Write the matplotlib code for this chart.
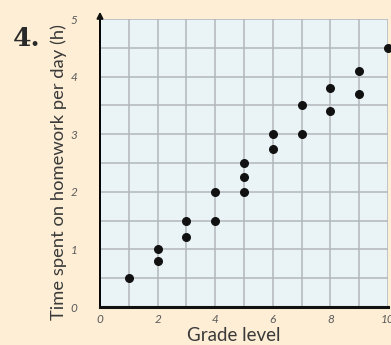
import matplotlib
matplotlib.use("Agg")
import matplotlib.pyplot as plt

# Scatter data: grade level vs hours of homework per day
grade = [1, 2, 2, 3, 3, 4, 4, 5, 5, 5, 6, 6, 7, 7, 8, 8, 9, 9, 10]
hours = [0.5, 1.0, 0.8, 1.5, 1.22, 2.0, 1.5, 2.5, 2.25, 2.0, 3.0, 2.75, 3.5, 3.0, 3.8, 3.4, 4.1, 3.7, 4.5]

x_ticks = [0, 2, 4, 6, 8, 10]
y_ticks = [0, 1, 2, 3, 4, 5]

bg = '#fdeed5'
plot_bg = '#eaf3f6'
grid_col = '#b3b6ba'
text_col = '#5a5a5a'

plt.rcParams['font.family'] = ['Lato', 'DejaVu Sans']

fig = plt.figure(figsize=(3.91, 3.45), dpi=100, facecolor=bg)
ax = fig.add_axes([100 / 391, 38 / 345, 288 / 391, 288 / 345])
ax.set_facecolor(plot_bg)

ax.set_xlim(0, 10)
ax.set_ylim(0, 5)

# grid every 1 on x, every 0.5 on y
for gx in range(1, 11):
    ax.axvline(gx, color=grid_col, lw=1.1, zorder=1)
for i in range(1, 11):
    ax.axhline(i * 0.5, color=grid_col, lw=1.1, zorder=1)

ax.scatter(grade, hours, s=30, color='#111111', zorder=3, clip_on=False)

for side in ['top', 'right']:
    ax.spines[side].set_visible(False)
ax.spines['left'].set_linewidth(1.4)
ax.spines['bottom'].set_linewidth(2.2)
ax.spines['bottom'].set_color('#111111')

# arrow on the y axis
ax.annotate('', xy=(0, 1.035), xytext=(0, 0.99), xycoords='axes fraction',
            arrowprops=dict(arrowstyle='-|>', color='#111111', lw=1.4,
                            mutation_scale=9), annotation_clip=False)

ax.set_xticks(x_ticks)
ax.set_yticks(y_ticks)
ax.tick_params(length=0, labelsize=8.5, labelcolor=text_col)
ax.tick_params(axis='x', pad=5)
ax.tick_params(axis='y', pad=16)
for lbl in ax.get_xticklabels() + ax.get_yticklabels():
    lbl.set_fontstyle('italic')

ax.set_xlabel('Grade level', fontsize=13.5, color='#3a3a3a')
ax.set_ylabel('Time spent on homework per day (h)', fontsize=13.2,
              color='#3a3a3a')
ax.xaxis.set_label_coords(0.464, -0.068)
ax.yaxis.set_label_coords(-0.115, 0.47)

fig.text(13 / 391, 1 - 38 / 345, '4.', fontsize=19, fontweight='bold',
         family='DejaVu Serif', color='#2a2a2a', va='center', ha='left')

plt.savefig('out.png', dpi=100, facecolor=bg)
